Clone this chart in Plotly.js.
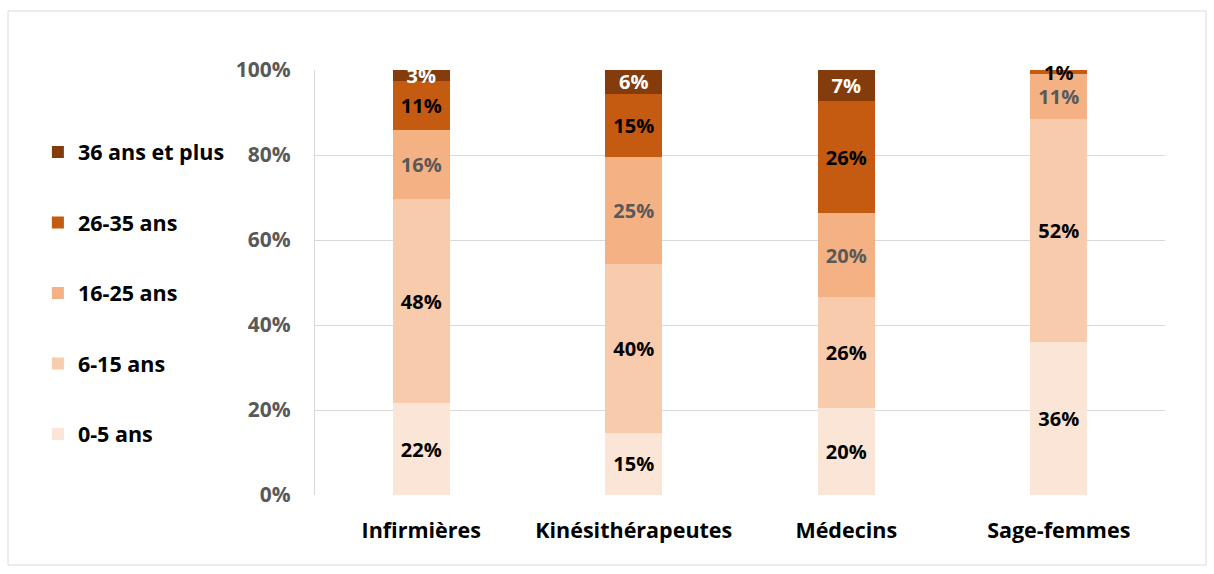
<!DOCTYPE html>
<html><head><meta charset="utf-8">
<script src="https://cdn.plot.ly/plotly-3.0.1.min.js"></script>
<style>html,body{margin:0;padding:0;background:#fff}#chart{width:1214px;height:574px}</style>
</head><body><div id="chart"></div>
<script>
const categories = ["Infirmières", "Kinésithérapeutes", "Médecins", "Sage-femmes"];
const seriesNames = ["0-5 ans", "6-15 ans", "16-25 ans", "26-35 ans", "36 ans et plus"];
const v0_5   = [21.6, 14.6, 20.4, 36.0];
const v6_15  = [48.0, 39.8, 26.1, 52.4];
const v16_25 = [16.3, 25.1, 19.8, 10.6];
const v26_35 = [11.4, 14.9, 26.3, 0.9];
const v36p   = [2.6, 5.6, 7.3, 0];
const yTicks = [0, 20, 40, 60, 80, 100];
const yTickLabels = ["0%", "20%", "40%", "60%", "80%", "100%"];

const colors = ["#FBE5D6", "#F8CBAD", "#F4B183", "#C55A11", "#843C0C"];
const textColors = ["#000000", "#000000", "#595959", "#000000", "#FFFFFF"];
const FONT = "'Open Sans', 'Noto Sans', sans-serif";
const all = [v0_5, v6_15, v16_25, v26_35, v36p];

const traces = all.map((vals, i) => ({
  type: "bar",
  name: seriesNames[i],
  x: categories,
  y: vals,
  legendgroup: "g" + i,
  legendrank: 5 - i,
  marker: {color: colors[i], line: {width: 0}},
  text: vals.map(v => v > 0.5 ? Math.round(v) + "%" : ""),
  textposition: "inside",
  insidetextanchor: "middle",
  constraintext: "none",
  cliponaxis: false,
  textangle: 0,
  textfont: {family: FONT, size: 20, color: textColors[i], weight: "bold"},
  hoverinfo: "none",
  width: 0.27
}));

const layout = {
  width: 1214, height: 574,
  margin: {l: 315, r: 49, t: 70, b: 79},
  barmode: "stack",
  paper_bgcolor: "#fff", plot_bgcolor: "#fff",
  font: {family: FONT, size: 20, color: "#000"},
  uniformtext: {mode: "show", minsize: 20},
  showlegend: true,
  legend: {
    x: -0.326, xanchor: "left", y: 0.855, yanchor: "top",
    traceorder: "grouped", tracegroupgap: 39.5,
    font: {family: FONT, size: 21.5, color: "#000", weight: "bold"},
    itemwidth: 30
  },
  xaxis: {
    type: "category",
    tickfont: {family: FONT, size: 21.5, color: "#000", weight: "bold"},
    ticklabelstandoff: 20,
    showgrid: false, zeroline: false, showline: false, ticks: ""
  },
  yaxis: {
    range: [0, 100],
    tickvals: yTicks, ticktext: yTickLabels,
    tickfont: {family: FONT, size: 21, color: "#595959", weight: "bold"},
    showgrid: true, gridcolor: "#D9D9D9", gridwidth: 1,
    zeroline: false, showline: true, linecolor: "#D9D9D9", linewidth: 1,
    ticks: "", ticklabelstandoff: 19
  },
  shapes: [{
    type: "rect", xref: "paper", yref: "paper",
    x0: (8 - 315) / 850, x1: (1206 - 315) / 850,
    y0: (495 - 565) / 425, y1: (495 - 11) / 425,
    line: {color: "#D9D9D9", width: 1}, fillcolor: "rgba(0,0,0,0)", layer: "below"
  }]
};

Plotly.newPlot("chart", traces, layout, {displayModeBar: false, staticPlot: true});
</script></body></html>
